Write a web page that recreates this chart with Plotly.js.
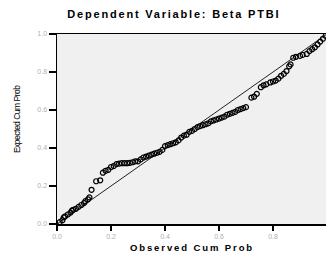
<!DOCTYPE html>
<html><head><meta charset="utf-8">
<script src="https://cdn.plot.ly/plotly-3.0.1.min.js"></script>
<style>html,body{margin:0;padding:0;overflow:hidden;background:#fff}#c{width:328px;height:255px}
#c text.gtitle{letter-spacing:1.8px}
#c text.xtitle{letter-spacing:1.9px}
#c .annotation-text{letter-spacing:-0.5px}
</style>
</head><body><div id="c"></div>
<script>
const observed = [0.01,0.02,0.025,0.03,0.04,0.05,0.055,0.06,0.07,0.08,0.09,0.10,0.105,0.115,0.12,
0.128,0.145,0.16,0.17,0.18,0.19,0.20,0.21,0.22,0.23,0.24,0.25,0.26,0.27,0.28,0.29,0.30,
0.31,0.32,0.33,0.34,0.35,0.36,0.37,0.38,0.39,0.40,0.41,0.42,0.43,0.44,0.45,0.46,0.47,0.48,0.49,0.50,0.51,0.52,0.53,0.54,0.55,0.56,0.57,0.58,0.59,0.60,0.61,0.62,0.63,0.64,0.65,0.66,0.67,0.68,0.69,0.70,
0.72,0.73,0.74,0.755,0.765,0.775,0.79,0.80,0.81,0.82,0.83,0.84,0.85,0.86,0.865,0.875,0.885,0.90,0.91,0.925,0.935,0.945,0.955,0.965,0.975,0.985,0.995];
const expected = [0.01,0.02,0.035,0.04,0.05,0.06,0.07,0.075,0.08,0.09,0.10,0.11,0.12,0.13,0.14,
0.18,0.225,0.23,0.27,0.28,0.285,0.30,0.305,0.315,0.318,0.32,0.32,0.32,0.322,0.325,0.33,0.33,
0.34,0.35,0.355,0.36,0.365,0.37,0.375,0.38,0.39,0.41,0.415,0.42,0.425,0.43,0.44,0.455,0.465,0.47,0.485,0.49,0.50,0.51,0.515,0.52,0.525,0.53,0.54,0.545,0.55,0.555,0.56,0.565,0.575,0.58,0.585,0.59,0.60,0.605,0.61,0.615,
0.665,0.67,0.685,0.72,0.73,0.735,0.745,0.75,0.755,0.765,0.78,0.79,0.805,0.83,0.84,0.875,0.88,0.885,0.89,0.895,0.91,0.92,0.93,0.945,0.96,0.975,0.99];
const refLine = [0, 1];
const tickVals = [0, 0.2, 0.4, 0.6, 0.8, 1.0];
const tickText = ['0.0','0.2','0.4','0.6','0.8','1.0'];

const traces = [
  {x: refLine, y: refLine, mode: 'lines', line: {color: '#222', width: 1}, hoverinfo: 'skip'},
  {x: observed, y: expected, mode: 'markers',
   marker: {symbol: 'circle-open', size: 5, color: '#000', line: {width: 1.2, color: '#000'}}}
];
const axisCommon = {
  range: [0, 1], tickvals: tickVals, ticktext: tickText, showgrid: false, zeroline: false,
  showline: true, linecolor: '#000', linewidth: 1.5, mirror: true, ticks: 'outside',
  tickcolor: '#000', tickwidth: 1.5, tickfont: {family: 'Liberation Sans, Arial', size: 7, color: '#b0b0b0'}
};
const layout = {
  width: 328, height: 255, showlegend: false,
  margin: {l: 57, r: 1, t: 34, b: 31},
  paper_bgcolor: '#fff', plot_bgcolor: '#f0f0f0',
  title: {text: 'Dependent Variable: Beta PTBI', x: 0.53, xanchor: 'center', y: 0.945, yanchor: 'middle',
          font: {family: 'Liberation Sans, Arial', size: 11, color: '#000', weight: 'bold'}},
  xaxis: Object.assign({}, axisCommon, {ticklen: 5,
    title: {text: 'Observed Cum Prob', standoff: 5, font: {family: 'Liberation Sans, Arial', size: 9.5, color: '#000', weight: 'bold'}}}),
  yaxis: Object.assign({}, axisCommon, {ticklen: 7}),
  annotations: [{text: 'Expected Cum Prob', xref: 'paper', yref: 'paper', x: -0.145, y: 0.55,
    xanchor: 'center', yanchor: 'middle', textangle: -90, showarrow: false,
    font: {family: 'Liberation Sans, Arial', size: 8.5, color: '#000'}}]
};
Plotly.newPlot('c', traces, layout, {displayModeBar: false, staticPlot: true});
</script></body></html>
